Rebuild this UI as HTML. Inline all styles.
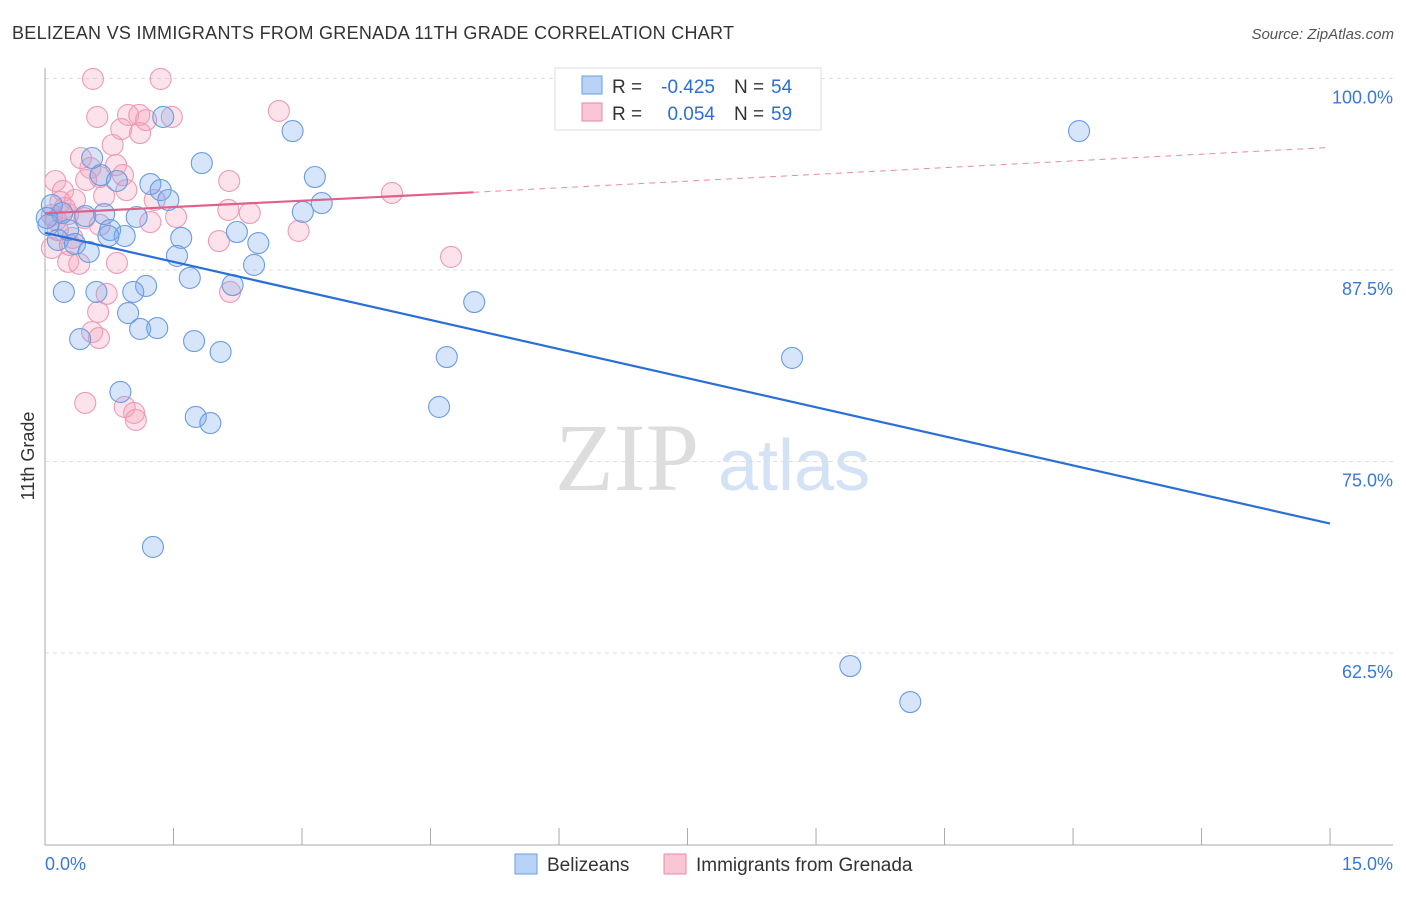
<!DOCTYPE html>
<html><head><meta charset="utf-8"><style>
body{margin:0;background:#fff;font-family:"Liberation Sans",sans-serif}
</style></head><body>
<svg id="c" width="1406" height="892" xmlns="http://www.w3.org/2000/svg" style="font-family:'Liberation Sans',sans-serif">
<text x="12" y="39" font-size="18" fill="#333" textLength="722">BELIZEAN VS IMMIGRANTS FROM GRENADA 11TH GRADE CORRELATION CHART</text>
<text x="1394" y="39" font-size="15" fill="#555" font-style="italic" text-anchor="end">Source: ZipAtlas.com</text>
<text x="555" y="490" font-size="96" fill="#ddd" font-family="Liberation Serif">ZIP</text>
<text x="718" y="490" font-size="72" fill="#d4e2f5">atlas</text>
<g id="grid"></g><g id="axes"></g><g id="pts"></g><g id="lines"></g>
<text transform="translate(34,456) rotate(-90)" font-size="18" fill="#333" text-anchor="middle">11th Grade</text>
<g>
<rect x="555" y="68" width="266" height="62" fill="#fff" stroke="#ddd"/>
<rect x="582" y="76" width="20" height="18" fill="#b8d3f5" stroke="#6a9de0"/>
<rect x="582" y="103" width="20" height="18" fill="#f9c6d5" stroke="#e88aa8"/>
<text x="612" y="93" font-size="19" fill="#333">R =</text>
<text x="715" y="93" font-size="19" fill="#2a6fd6" text-anchor="end">-0.425</text>
<text x="734" y="93" font-size="19" fill="#333">N =</text>
<text x="771" y="93" font-size="19" fill="#2a6fd6">54</text>
<text x="612" y="120" font-size="19" fill="#333">R =</text>
<text x="715" y="120" font-size="19" fill="#2a6fd6" text-anchor="end">0.054</text>
<text x="734" y="120" font-size="19" fill="#333">N =</text>
<text x="771" y="120" font-size="19" fill="#2a6fd6">59</text>
</g>
<g>
<rect x="515" y="854" width="22" height="20" fill="#b8d3f5" stroke="#6a9de0"/>
<text x="547" y="871" font-size="19" fill="#333">Belizeans</text>
<rect x="664" y="854" width="22" height="20" fill="#f9c6d5" stroke="#e88aa8"/>
<text x="696" y="871" font-size="19" fill="#333">Immigrants from Grenada</text>
</g>
</svg>
<script>
const yTicks=[100,87.5,75,62.5];
const yTickLabels=["100.0%","87.5%","75.0%","62.5%"];
const xTickLabels=["0.0%","15.0%"];
const blueX=[1.38,2.89,12.07,0.55,1.83,0.65,0.84,3.15,1.23,1.35,1.44,3.23,0.08,0.20,0.69,1.07,3.01,0.47,0.04,0.27,0.76,0.93,0.74,1.59,2.24,2.49,0.15,0.35,0.51,1.54,2.44,1.69,1.18,2.19,0.22,0.60,1.03,5.01,0.97,1.11,1.31,0.41,1.74,2.05,4.69,8.72,0.88,4.60,1.76,1.93,1.26,9.40,10.10,0.02];
const blueY=[97.49,96.57,96.57,94.81,94.48,93.70,93.31,93.57,93.11,92.72,92.07,91.87,91.74,91.22,91.15,90.96,91.29,91.02,90.44,90.11,90.11,89.72,89.72,89.59,89.98,89.26,89.46,89.20,88.68,88.42,87.83,86.98,86.46,86.52,86.07,86.07,86.07,85.41,84.69,83.65,83.71,82.99,82.86,82.15,81.82,81.76,79.54,78.56,77.91,77.51,69.42,61.65,59.30,90.9];
const pinkX=[0.56,1.35,0.61,0.97,1.10,1.18,1.48,2.73,0.89,1.11,0.79,0.42,0.83,0.53,0.91,0.64,0.48,0.12,2.15,0.21,0.95,4.05,0.69,1.28,0.18,0.35,2.14,2.39,0.08,0.27,1.53,1.23,0.46,2.96,0.32,2.03,0.08,4.74,0.27,0.40,0.84,0.72,2.16,0.62,0.55,0.63,0.47,0.93,1.04,1.06,0.13,0.23,0.64,0.29,0.15];
const pinkY=[99.97,99.97,97.49,97.62,97.62,97.29,97.49,97.88,96.70,96.44,95.66,94.81,94.35,94.16,93.70,93.57,93.38,93.31,93.31,92.66,92.72,92.53,92.33,92.07,91.94,92.07,91.42,91.22,91.09,91.15,90.96,90.63,90.89,90.05,89.59,89.39,88.94,88.35,88.03,87.90,87.96,85.94,86.07,84.76,83.45,83.06,78.82,78.56,78.17,77.71,90.76,91.55,90.44,89.13,90.11];
const blueTrend=[[0,89.93],[15,70.95]];
const pinkTrend=[[0,91.2],[5.0,92.57]];
const pinkTrendExt=[[5.0,92.57],[15,95.5]];
const NS="http://www.w3.org/2000/svg";
const X=v=>45+v*85.67, Y=v=>78.5+(100-v)*15.32;
function mk(t,a,p){const e=document.createElementNS(NS,t);for(const k in a)e.setAttribute(k,a[k]);document.getElementById(p).appendChild(e);return e;}
yTicks.forEach((t,i)=>{
 const g=mk('line',{x1:45,x2:1393,y1:Y(t),y2:Y(t),stroke:'#ddd','stroke-dasharray':'4,4'},'grid');
 
 
 const l=mk('text',{x:1393,y:Y(t)+25,'text-anchor':'end','font-size':18,fill:'#3a78d8'},'axes');l.textContent=yTickLabels[i];
 
 
});
mk('line',{x1:45,x2:45,y1:68,y2:845,stroke:'#aaa'},'axes');
mk('line',{x1:45,x2:1393,y1:845,y2:845,stroke:'#aaa'},'axes');
for(let i=0;i<=10;i++){const t=mk('line',{x1:X(i*1.5),x2:X(i*1.5),y1:828,y2:845,stroke:'#aaa'},'axes');
 
 }
[[0,'start',45],[1,'end',1393]].forEach(([i,a,x])=>{const l=mk('text',{x:x,y:870,'text-anchor':a,'font-size':18,fill:'#3a78d8'},'axes');l.textContent=xTickLabels[i];
 
 });
pinkX.forEach((v,i)=>{const c=mk('circle',{cx:X(v),cy:Y(pinkY[i]),r:10.5,fill:'rgba(245,160,185,0.3)',stroke:'#ee9ab4','stroke-width':1.1},'pts');
 
 });
blueX.forEach((v,i)=>{const c=mk('circle',{cx:X(v),cy:Y(blueY[i]),r:10.5,fill:'rgba(120,170,240,0.3)',stroke:'#6a9be2','stroke-width':1.1},'pts');
 
 });
let l1=mk('line',{x1:X(blueTrend[0][0]),y1:Y(blueTrend[0][1]),x2:X(blueTrend[1][0]),y2:Y(blueTrend[1][1]),stroke:'#2a6fd6','stroke-width':2.2},'lines');


let l2=mk('line',{x1:X(pinkTrend[0][0]),y1:Y(pinkTrend[0][1]),x2:X(pinkTrend[1][0]),y2:Y(pinkTrend[1][1]),stroke:'#e0608a','stroke-width':2.2},'lines');


let l3=mk('line',{x1:X(pinkTrendExt[0][0]),y1:Y(pinkTrendExt[0][1]),x2:X(pinkTrendExt[1][0]),y2:Y(pinkTrendExt[1][1]),stroke:'#e88aa8','stroke-width':1,'stroke-dasharray':'6,5'},'lines');


</script>
</body></html>
